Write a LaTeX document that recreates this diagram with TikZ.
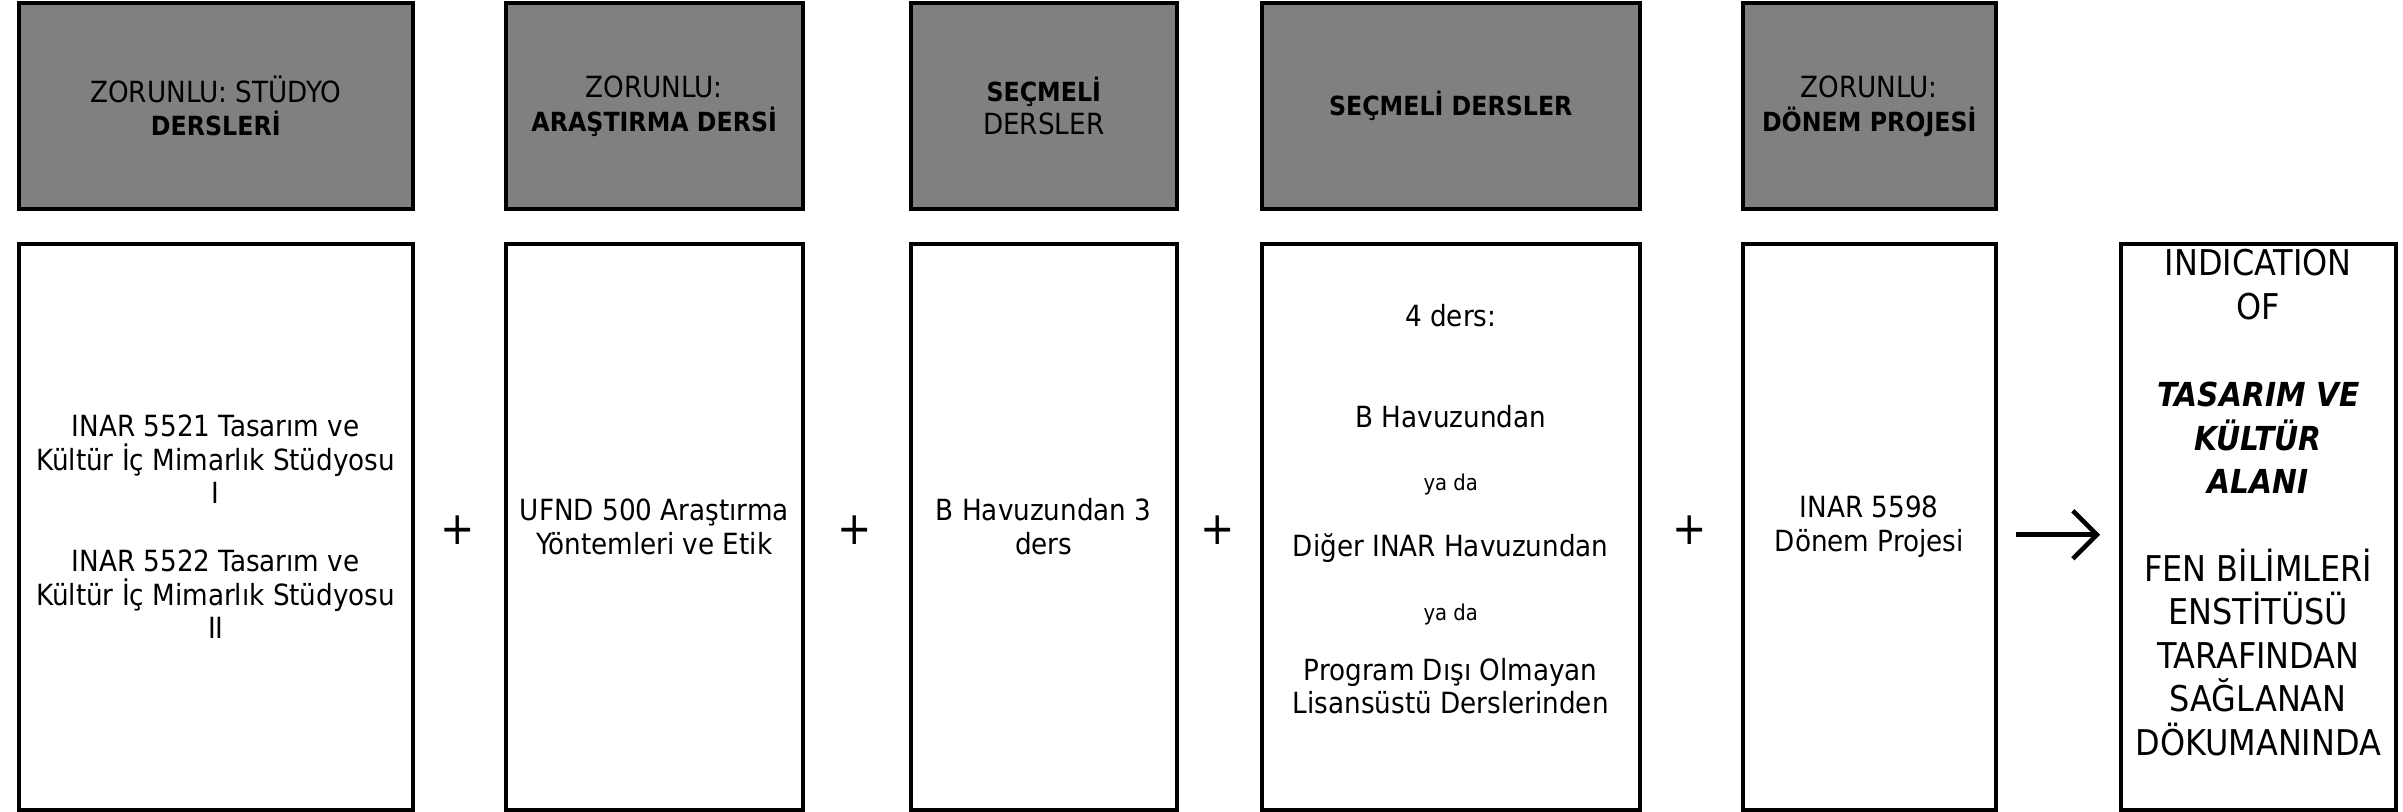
\documentclass[tikz,border=0pt]{standalone}
\usepackage{fontspec}
\setmainfont{DejaVu Sans Condensed}
\usetikzlibrary{arrows.meta}
\definecolor{headgray}{RGB}{128,128,128}
\newcommand{\hb}[1]{{\fontsize{7.5}{9.6}\selectfont\textbf{#1}}}

\begin{document}
\begin{tikzpicture}[
  headbox/.style={draw, line width=1pt, fill=headgray, anchor=north west,
    minimum height=2.055cm, inner sep=0pt, align=center,
    font=\fontsize{8.3}{9.6}\selectfont},
  lowbox/.style={draw, line width=1pt, anchor=north west,
    minimum height=5.66cm, inner sep=0pt},
  bodytext/.style={align=center, inner sep=0pt, font=\fontsize{8.3}{9.6}\selectfont},
  bigtext/.style={align=center, inner sep=0pt, font=\fontsize{10.1}{12.4}\selectfont},
  plus/.style={inner sep=0pt, font=\fontsize{13}{13}\selectfont},
  flowarrow/.style={line width=1.3pt, -{Straight Barb[length=0.24cm,width=0.48cm]},
    shorten <=0.18cm, shorten >=0.19cm}]
\useasboundingbox (0,0) rectangle (24.03,-8.12);
%%% header boxes
\node[headbox, minimum width=3.94cm] (h1) at (0.17,-0.015) {ZORUNLU: STÜDYO\\\hb{DERSLERİ}};
\node[headbox, minimum width=2.97cm] (h2) at (5.04,-0.015) {ZORUNLU:\\\hb{ARAŞTIRMA DERSİ}};
\node[headbox, minimum width=2.66cm] (h3) at (9.09,-0.015) {\hb{SEÇMELİ}\\DERSLER};
\node[headbox, minimum width=3.78cm] (h4) at (12.60,-0.015) {\hb{SEÇMELİ DERSLER}};
\node[headbox, minimum width=2.53cm] (h5) at (17.41,-0.015) {ZORUNLU:\\\hb{DÖNEM PROJESİ}};
%%% course boxes
\node[lowbox, minimum width=3.94cm] (b1) at (0.17,-2.42) {};
\node[lowbox, minimum width=2.97cm] (b2) at (5.04,-2.42) {};
\node[lowbox, minimum width=2.66cm] (b3) at (9.09,-2.42) {};
\node[lowbox, minimum width=3.78cm] (b4) at (12.60,-2.42) {};
\node[lowbox, minimum width=2.53cm] (b5) at (17.41,-2.42) {};
\node[lowbox, minimum width=2.75cm] (b6) at (21.19,-2.42) {};
%%% texts of the boxes
\node[bodytext] (t1) at (b1.center) {INAR 5521 Tasarım ve\\Kültür İç Mimarlık Stüdyosu\\I\\[9.6pt]
  INAR 5522 Tasarım ve\\Kültür İç Mimarlık Stüdyosu\\II};
\node[bodytext] (t2) at (b2.center) {UFND 500 Araştırma\\Yöntemleri ve Etik};
\node[bodytext] (t3) at (b3.center) {B Havuzundan 3\\ders};
\node[bodytext] (t4) at ([yshift=0.175cm]b4.center) {4 ders:\\[0.67cm]B Havuzundan\\[0.3cm]
  {\fontsize{6.2}{9.6}\selectfont ya da}\\[0.32cm]Diğer INAR Havuzundan\\[0.3cm]
  {\fontsize{6.2}{9.6}\selectfont ya da}\\[0.26cm]Program Dışı Olmayan\\Lisansüstü Derslerinden};
\node[bodytext] (t5) at (b5.center) {INAR 5598\\Dönem Projesi};
\node[bigtext] (t6) at ([yshift=0.24cm]b6.center) {INDICATION\\OF\\[12.4pt]
  {\fontsize{9.4}{12.4}\selectfont\textbf{\textit{TASARIM VE}}}\\
  {\fontsize{9.4}{12.4}\selectfont\textbf{\textit{KÜLTÜR}}}\\
  {\fontsize{9.4}{12.4}\selectfont\textbf{\textit{ALANI}}}\\[12.4pt]
  FEN BİLİMLERİ\\ENSTİTÜSÜ\\TARAFINDAN\\SAĞLANAN\\DÖKUMANINDA};
%%% plus signs and the arrow
\node[plus] (p1) at (4.575,-5.30) {+};
\node[plus] (p2) at (8.55,-5.30) {+};
\node[plus] (p3) at (12.175,-5.30) {+};
\node[plus] (p4) at (16.895,-5.30) {+};
\draw[flowarrow] ([yshift=-0.08cm]b5.east) -- ([yshift=-0.08cm]b6.west);
\end{tikzpicture}
\end{document}
